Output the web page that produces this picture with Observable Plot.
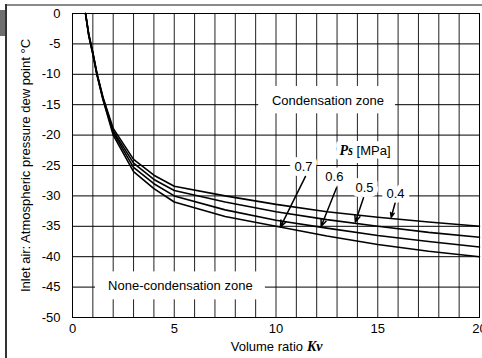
<!DOCTYPE html>
<html>
<head>
<meta charset="utf-8">
<script src="https://cdn.jsdelivr.net/npm/d3@7"></script>
<script src="https://cdn.jsdelivr.net/npm/@observablehq/plot@0.6"></script>
<style>
  html, body { margin: 0; padding: 0; background: #fff; }
  #wrap { position: relative; width: 482px; height: 358px; overflow: hidden; }
  #wrap svg { position: absolute; left: 0; top: 0; }
  .deco { position: absolute; pointer-events: none; }
</style>
</head>
<body>
<div id="wrap">
  <div id="chart"></div>
  <div class="deco" style="left:5px;top:4px;width:477px;height:2px;background:#8a8a8a;"></div>
  <div class="deco" style="left:5px;top:4px;width:1.5px;height:354px;background:#333;"></div>
  <div class="deco" style="left:0;top:10px;width:5px;height:26px;background:#6e6e6e;"></div>
</div>
<script>
// Volume ratio Kv (x) and atmospheric pressure dew point (°C) per supply pressure Ps
const kv   = [0.64, 0.8, 1.0, 1.2, 1.5, 2, 3, 4, 5, 7.5, 10, 12.5, 15, 17.5, 20];
const ps04 = [0, -3.4, -6.4, -9.8, -13.8, -18.9, -24.0, -26.6, -28.4, -30.0, -31.4, -32.6, -33.5, -34.3, -35.0];
const ps05 = [0, -3.5, -6.5, -9.9, -13.9, -19.3, -24.6, -27.3, -29.1, -31.0, -32.6, -33.9, -35.0, -36.0, -36.8];
const ps06 = [0, -3.6, -6.6, -10.0, -14.1, -19.6, -25.3, -28.0, -30.0, -32.3, -34.0, -35.3, -36.5, -37.5, -38.4];
const ps07 = [0, -3.7, -6.7, -10.1, -14.2, -20.0, -26.0, -28.8, -31.0, -33.4, -35.0, -36.6, -38.0, -39.1, -40.0];
const seriesNames = ["0.4", "0.5", "0.6", "0.7"];
const seriesValues = [ps04, ps05, ps06, ps07];

// axis ticks
const xTicks = [0, 5, 10, 15, 20];
const yTicks = [0, -5, -10, -15, -20, -25, -30, -35, -40, -45, -50];
const xGridTicks = d3.range(1, 20);
const yGridTicks = [-5, -10, -15, -20, -25, -30, -35, -40, -45];

// annotations (data units)
const labelKv   = [15.87, 14.35, 12.87, 11.35];
const labelDew  = [-29.7, -28.6, -26.8, -25.2];
const tailKv    = [15.85, 14.3, 12.97, 11.45];
const tailDew   = [-31.2, -30.3, -28.7, -26.8];
const tipKv     = [15.66, 13.9, 12.22, 10.22];
const tipDew    = [-33.5, -34.3, -35.0, -35.1];

const zoneNames = ["Condensation zone", "None-condensation zone"];
const zoneKv    = [12.55, 5.3];
const zoneDew   = [-14.3, -44.8];
const zoneX1 = [9.15, 1.13], zoneX2 = [15.87, 9.48];
const zoneY1 = [-12.0, -42.5], zoneY2 = [-16.5, -47.1];

const curveRows = seriesNames.flatMap((name, i) =>
  kv.map((k, j) => ({ps: name, kv: k, dew: seriesValues[i][j]})));
const labelRows = seriesNames.map((name, i) => ({ps: name, x: labelKv[i], y: labelDew[i]}));
const arrowRows = seriesNames.map((name, i) => ({x1: tailKv[i], y1: tailDew[i], x2: tipKv[i], y2: tipDew[i]}));
const zoneRows = zoneNames.map((name, i) => ({name, x: zoneKv[i], y: zoneDew[i], x1: zoneX1[i], x2: zoneX2[i], y1: zoneY1[i], y2: zoneY2[i]}));

const psLabel = [{x: 14.4, y: -22.6}];

const chart = Plot.plot({
  width: 482,
  height: 358,
  marginLeft: 72,
  marginRight: 3,
  marginTop: 13,
  marginBottom: 41,
  style: {fontFamily: "'Liberation Sans', Arial, sans-serif", fontSize: "13px", color: "#000", background: "#fff"},
  x: {domain: [0, 20], ticks: xTicks, tickSize: 0, tickPadding: 6, label: null, tickFormat: d => String(d)},
  y: {domain: [-50, 0], ticks: yTicks, tickSize: 0, tickPadding: 12, label: null, tickFormat: d => String(d)},
  marks: [
    Plot.gridX(xGridTicks, {stroke: "#222", strokeOpacity: 1, strokeWidth: 1}),
    Plot.gridY(yGridTicks, {stroke: "#000", strokeOpacity: 1, strokeWidth: 1}),
    Plot.rect(zoneRows, {x1: "x1", x2: "x2", y1: "y1", y2: "y2", fill: "#fff"}),
    Plot.line(curveRows, {x: "kv", y: "dew", z: "ps", stroke: "#000", strokeWidth: 1.6}),
    Plot.text(zoneRows, {x: "x", y: "y", text: "name", fill: "#000", fontSize: 13}),
    Plot.text(labelRows, {x: "x", y: "y", text: "ps", fill: "#000", stroke: "#fff", strokeWidth: 10, paintOrder: "stroke", strokeLinejoin: "round", fontSize: 13}),
    Plot.arrow(arrowRows, {x1: "x1", y1: "y1", x2: "x2", y2: "y2", stroke: "#000", strokeWidth: 1.5, headLength: 7, headAngle: 45}),
    Plot.text(psLabel, {x: "x", y: "y", text: () => "Ps", textAnchor: "end", dx: -12, fontFamily: "'Liberation Serif', 'Times New Roman', serif", fontWeight: "bold", fontStyle: "italic", fontSize: 14, fill: "#000", stroke: "#fff", strokeWidth: 10, paintOrder: "stroke", strokeLinejoin: "round"}),
    Plot.text(psLabel, {x: "x", y: "y", text: () => "[MPa]", textAnchor: "start", dx: -9, fontSize: 13, fill: "#000", stroke: "#fff", strokeWidth: 10, paintOrder: "stroke", strokeLinejoin: "round"}),
    Plot.text(["Inlet air: Atmospheric pressure dew point °C"], {frameAnchor: "left", textAnchor: "middle", lineAnchor: "middle", rotate: -90, dx: -47, fontSize: 13, fill: "#000"}),
    Plot.text(["Volume ratio"], {frameAnchor: "bottom", textAnchor: "end", lineAnchor: "middle", dx: 27, dy: 29, fontSize: 13, fill: "#000"}),
    Plot.text(["Kv"], {frameAnchor: "bottom", textAnchor: "start", lineAnchor: "middle", dx: 31, dy: 29, fontSize: 14, fontFamily: "'Liberation Serif', 'Times New Roman', serif", fontWeight: "bold", fontStyle: "italic", fill: "#000"}),
    Plot.frame({stroke: "#000", strokeWidth: 1})
  ]
});
document.getElementById("chart").appendChild(chart);
</script>
</body>
</html>
